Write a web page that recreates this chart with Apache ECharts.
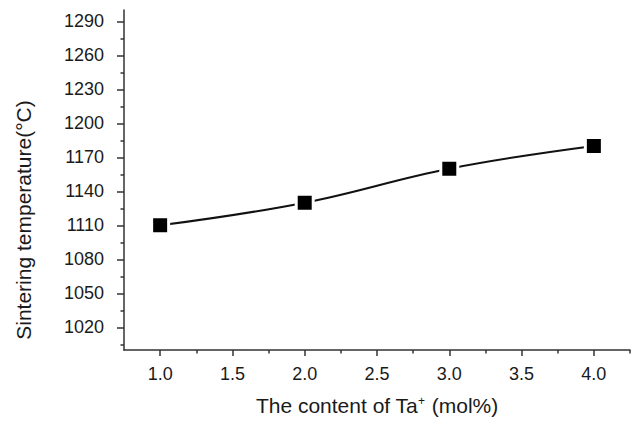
<!DOCTYPE html>
<html>
<head>
<meta charset="utf-8">
<script src="https://cdn.jsdelivr.net/npm/echarts@6/dist/echarts.min.js"></script>
<style>
  html, body { margin: 0; padding: 0; background: #fff; }
  #chart { width: 631px; height: 424px; }
</style>
</head>
<body>
<div id="chart"></div>
<script>
// Ta+ content vs sintering temperature
const taContent = [1.0, 2.0, 3.0, 4.0];
const sinterTemp = [1110, 1130, 1160, 1180];

const xMajorTicks = [1.0, 1.5, 2.0, 2.5, 3.0, 3.5, 4.0];
const xMinorTicks = [1.25, 1.75, 2.25, 2.75, 3.25, 3.75, 4.25];
const yMajorTicks = [1020, 1050, 1080, 1110, 1140, 1170, 1200, 1230, 1260, 1290];
const yMinorTicks = [1005, 1035, 1065, 1095, 1125, 1155, 1185, 1215, 1245, 1275];

const axisColor = '#333';
const textColor = '#1a1a1a';
const font = 'Liberation Sans, Arial, sans-serif';

const chart = echarts.init(document.getElementById('chart'), null, { renderer: 'svg' });

const hiddenAxis = {
  axisLine: { show: false },
  axisLabel: { show: false },
  splitLine: { show: false }
};

chart.setOption({
  animation: false,
  textStyle: { fontFamily: font, color: textColor },
  grid: { left: 124, right: 1, top: 10, bottom: 74 },
  xAxis: [
    {
      type: 'value',
      min: 0.75,
      max: 4.25,
      name: 'The content of Ta{sup|+} (mol%)',
      nameLocation: 'middle',
      nameGap: 45,
      nameTextStyle: {
        fontSize: 21,
        color: textColor,
        rich: { sup: { fontSize: 12, verticalAlign: 'top', padding: [0, 1, 8, 0], color: textColor } }
      },
      axisLine: { lineStyle: { color: axisColor, width: 1.5 } },
      axisTick: { customValues: xMajorTicks, length: 6, lineStyle: { color: axisColor, width: 1.5 } },
      axisLabel: {
        customValues: xMajorTicks,
        fontSize: 18,
        color: textColor,
        margin: 15,
        formatter: v => v.toFixed(1)
      },
      splitLine: { show: false }
    },
    {
      type: 'value',
      min: 0.75,
      max: 4.25,
      position: 'bottom',
      offset: 0,
      ...hiddenAxis,
      axisTick: { customValues: xMinorTicks, length: 3.5, lineStyle: { color: axisColor, width: 1.5 } }
    }
  ],
  yAxis: [
    {
      type: 'value',
      min: 1000,
      max: 1300,
      name: 'Sintering temperature(°C)',
      nameLocation: 'middle',
      nameGap: 90,
      nameTextStyle: { fontSize: 21, color: textColor, padding: [0, 80, 0, 0] },
      axisLine: { show: true, lineStyle: { color: axisColor, width: 1.5 } },
      axisTick: { show: true, customValues: yMajorTicks, length: 7, lineStyle: { color: axisColor, width: 1.5 } },
      axisLabel: {
        customValues: yMajorTicks,
        fontSize: 18,
        color: textColor,
        margin: 20,
        formatter: v => String(v)
      },
      splitLine: { show: false }
    },
    {
      type: 'value',
      min: 1000,
      max: 1300,
      position: 'left',
      offset: 0,
      ...hiddenAxis,
      axisTick: { show: true, customValues: yMinorTicks, length: 3.5, lineStyle: { color: axisColor, width: 1.5 } }
    }
  ],
  series: [
    {
      type: 'line',
      data: taContent.map((x, i) => [x, sinterTemp[i]]),
      smooth: 0.4,
      symbol: 'rect',
      symbolSize: 17,
      itemStyle: { color: '#000', borderColor: '#fff', borderWidth: 3 },
      lineStyle: { color: '#111', width: 2 },
      z: 3
    }
  ]
});
</script>
</body>
</html>
